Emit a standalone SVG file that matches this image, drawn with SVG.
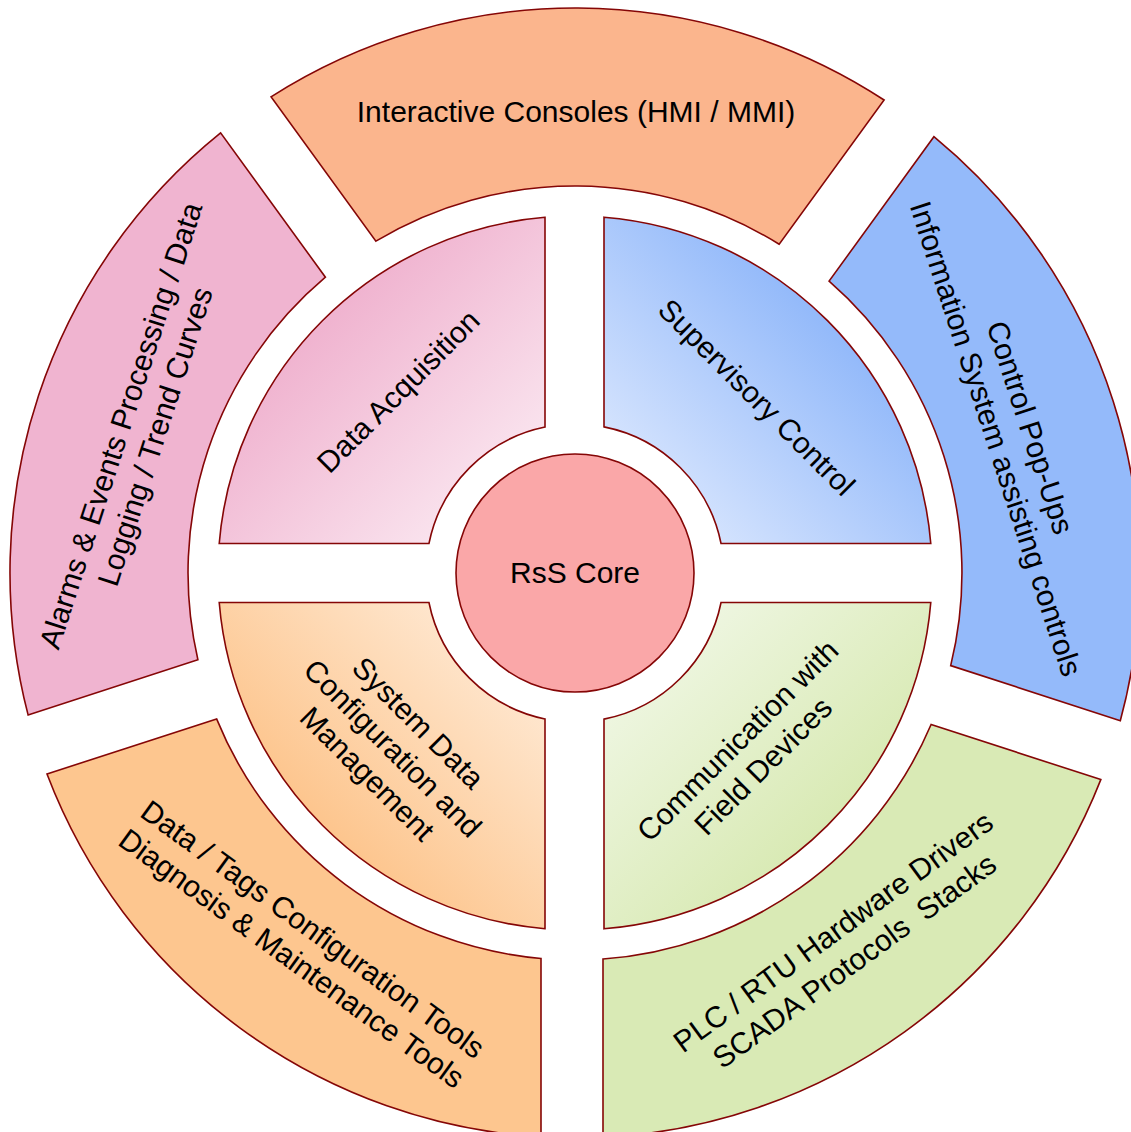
<svg xmlns="http://www.w3.org/2000/svg" width="1131" height="1132" viewBox="0 0 1131 1132">
  <style>
    .seg { stroke: #850606; stroke-width: 1.6; stroke-linejoin: miter; }
    .lbl { font-family: "Liberation Sans", Arial, sans-serif; font-size: 30px; fill: #000; text-anchor: middle; }
  </style>
  <defs>
    <linearGradient id="gPink" gradientUnits="userSpaceOnUse" x1="545" y1="543.5" x2="326" y2="324">
      <stop offset="0" stop-color="#FDF3F8"/>
      <stop offset="1" stop-color="#F0B4D0"/>
    </linearGradient>
    <linearGradient id="gBlue" gradientUnits="userSpaceOnUse" x1="604" y1="543.5" x2="824" y2="324">
      <stop offset="0" stop-color="#EAF1FF"/>
      <stop offset="1" stop-color="#94BAFA"/>
    </linearGradient>
    <linearGradient id="gGreen" gradientUnits="userSpaceOnUse" x1="604" y1="602.5" x2="824" y2="822">
      <stop offset="0" stop-color="#F5FAEF"/>
      <stop offset="1" stop-color="#D9EAB5"/>
    </linearGradient>
    <linearGradient id="gOrange" gradientUnits="userSpaceOnUse" x1="545" y1="602.5" x2="326" y2="822">
      <stop offset="0" stop-color="#FFF1E3"/>
      <stop offset="1" stop-color="#FDC68F"/>
    </linearGradient>
  </defs>

  <!-- Outer ring -->
  <g id="node-interactive-consoles">
    <path class="seg" fill="#FBB58D" d="M271.0,96.8 A565,565 0 0 1 884.1,100.0 L779.2,244.3 A387,387 0 0 0 375.9,241.1 Z"/>
    <text class="lbl" x="576" y="122">Interactive Consoles (HMI / MMI)</text>
  </g>
  <g id="node-control-popups">
    <path class="seg" fill="#94BAFA" d="M933.9,136.7 A565,565 0 0 1 1120.3,720.7 L950.7,665.6 A387,387 0 0 0 829.1,281.1 Z"/>
    <g transform="translate(1013.5,433) rotate(72)">
      <text class="lbl" x="0" y="-7.25">Control Pop-Ups</text>
      <text class="lbl" x="0" y="28.75">Information System assisting controls</text>
    </g>
  </g>
  <g id="node-plc-drivers">
    <path class="seg" fill="#D9EAB5" d="M1100.8,779.6 A565,565 0 0 1 603,1137.3 L603,959.0 A387,387 0 0 0 931.1,724.5 Z"/>
    <g transform="translate(843.5,946) rotate(-36)">
      <text class="lbl" x="0" y="-7.25">PLC / RTU Hardware Drivers</text>
      <text class="lbl" x="0" y="28.75" xml:space="preserve" style="white-space:pre">SCADA Protocols  Stacks</text>
    </g>
  </g>
  <g id="node-tags-config">
    <path class="seg" fill="#FDC68F" d="M541,1137.0 A565,565 0 0 1 47.0,774.0 L216.6,718.9 A387,387 0 0 0 541,958.5 Z"/>
    <g transform="translate(302.5,943.5) rotate(36)">
      <text class="lbl" x="0" y="-7.25">Data / Tags Configuration Tools</text>
      <text class="lbl" x="0" y="28.75">Diagnosis &amp; Maintenance Tools</text>
    </g>
  </g>
  <g id="node-alarms-events">
    <path class="seg" fill="#F0B4D0" d="M28.1,714.9 A565,565 0 0 1 220.6,132.9 L325.4,277.2 A387,387 0 0 0 197.9,659.8 Z"/>
    <g transform="translate(137.5,430.9) rotate(-72)">
      <text class="lbl" x="0" y="-7.25">Alarms &amp; Events Processing / Data</text>
      <text class="lbl" x="0" y="28.75">Logging / Trend Curves</text>
    </g>
  </g>

  <!-- Inner quadrants -->
  <g id="node-data-acquisition">
    <path class="seg" fill="url(#gPink)" d="M219.22,543.5 A357,357 0 0 1 545,217.26 L545,427.05 A149,149 0 0 0 428.95,543.5 Z"/>
    <text class="lbl" transform="translate(398,391) rotate(-45)" x="0" y="10.75">Data Acquisition</text>
  </g>
  <g id="node-supervisory-control">
    <path class="seg" fill="url(#gBlue)" d="M604,217.18 A357,357 0 0 1 930.78,543.5 L721.05,543.5 A149,149 0 0 0 604,426.85 Z"/>
    <text class="lbl" transform="translate(757,397) rotate(45)" x="0" y="10.75">Supervisory Control</text>
  </g>
  <g id="node-communication">
    <path class="seg" fill="url(#gGreen)" d="M721.05,602.5 L930.78,602.5 A357,357 0 0 1 604,928.82 L604,719.15 A149,149 0 0 0 721.05,602.5 Z"/>
    <g transform="translate(750,753) rotate(-45)">
      <text class="lbl" x="0" y="-7.25">Communication with</text>
      <text class="lbl" x="0" y="28.75">Field Devices</text>
    </g>
  </g>
  <g id="node-system-data">
    <path class="seg" fill="url(#gOrange)" d="M545,718.95 L545,928.74 A357,357 0 0 1 219.22,602.5 L428.95,602.5 A149,149 0 0 0 545,718.95 Z"/>
    <g transform="translate(393,748) rotate(45)">
      <text class="lbl" x="0" y="-25.25">System Data</text>
      <text class="lbl" x="0" y="10.75">Configuration and</text>
      <text class="lbl" x="0" y="46.75">Management</text>
    </g>
  </g>

  <!-- Core -->
  <g id="node-core">
    <circle class="seg" fill="#FAA7A8" cx="575" cy="573" r="119"/>
    <text class="lbl" x="575" y="583">RsS Core</text>
  </g>
</svg>
